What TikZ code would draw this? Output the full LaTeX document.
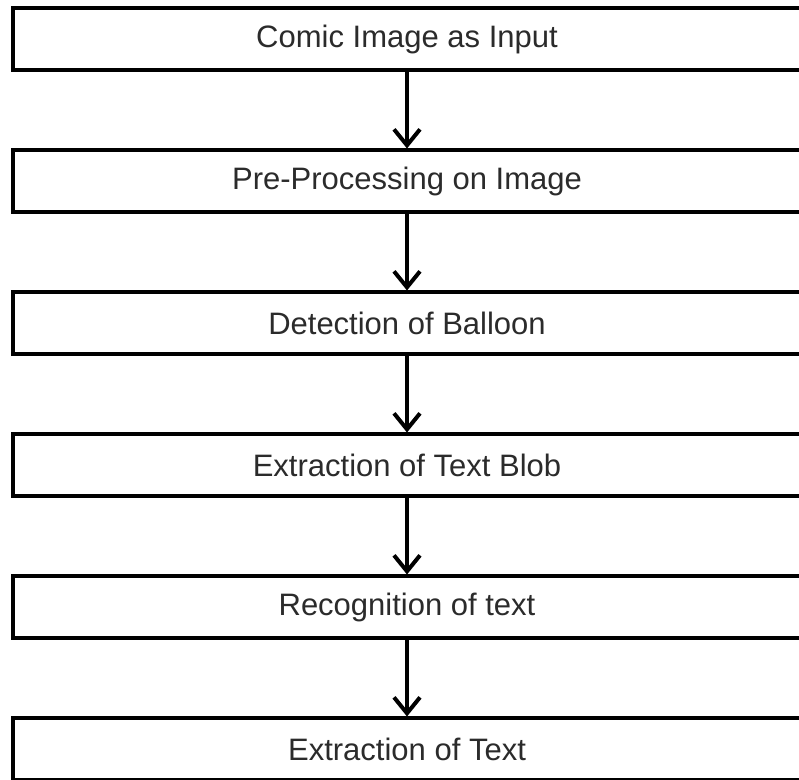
\documentclass[tikz,border=0pt]{standalone}
\usepackage{fontspec}
\setmainfont{Liberation Sans}
\usepackage{xcolor}
\usetikzlibrary{arrows.meta, positioning}
\definecolor{StepInk}{HTML}{2B2B2B}

\begin{document}
\begin{tikzpicture}[
  x=0.5pt, y=-0.5pt,
  font=\fontsize{15.5}{18}\selectfont,
  >={Straight Barb[length=8pt, width=13pt, line width=2pt]}, node distance=38pt,
  stepbox/.style={rectangle, draw=black, line width=2pt, fill=white, text=StepInk,
                  minimum width=394pt, minimum height=31pt, inner sep=0pt},
  arr/.style={->, draw=black, line width=1.8pt},
]
\useasboundingbox (0,0) rectangle (799,780);
\node[stepbox] (input) at (407,39.5) {Comic Image as Input};
\node[stepbox, below=of input] (prep) {Pre-Processing on Image};
\node[stepbox, below=of prep] (balloon) {Detection of Balloon};
\node[stepbox, below=of balloon] (blob) {Extraction of Text Blob};
\node[stepbox, below=of blob] (recog) {Recognition of text};
\node[stepbox, below=of recog] (output) {Extraction of Text};
\draw[arr] (input) -- (prep);
\draw[arr] (prep) -- (balloon);
\draw[arr] (balloon) -- (blob);
\draw[arr] (blob) -- (recog);
\draw[arr] (recog) -- (output);
\end{tikzpicture}
\end{document}
